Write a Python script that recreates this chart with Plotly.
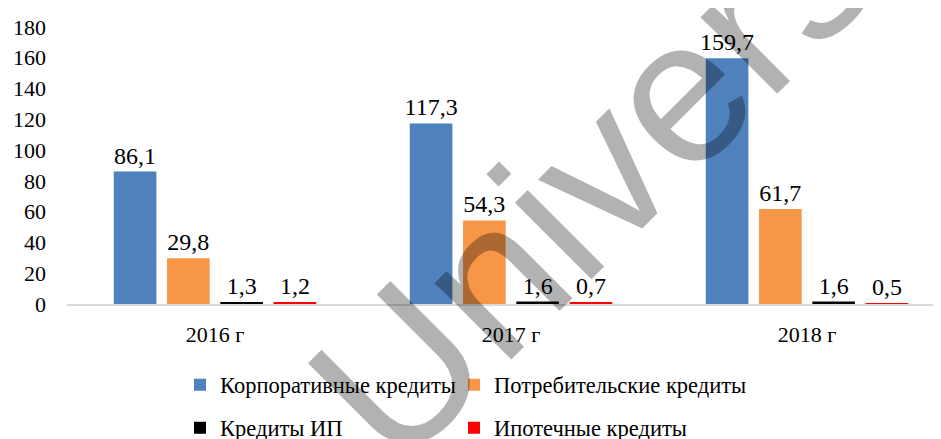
import plotly.graph_objects as go

categories = ["2016 г", "2017 г", "2018 г"]
series_names = ["Корпоративные кредиты", "Потребительские кредиты", "Кредиты ИП", "Ипотечные кредиты"]
corporate = [86.1, 117.3, 159.7]
consumer = [29.8, 54.3, 61.7]
ip_loans = [1.3, 1.6, 1.6]
mortgage = [1.2, 0.7, 0.5]
colors = ["#4F81BD", "#F79646", "#000000", "#FF0000"]
y_ticks = list(range(0, 181, 20))

SERIF = "Times New Roman, Liberation Serif, serif"
# page body has an 8px margin: work in figure coordinates = window - 8
OFF = 8
W, H = 941 - OFF, 439 - OFF
L = 67 - OFF
T = 27 - OFF
B = H - (304 - OFF)
R = 0

fig = go.Figure()
all_series = [corporate, consumer, ip_loans, mortgage]
legend_ids = ["legend", "legend2", "legend3", "legend4"]
for name, vals, col, lg in zip(series_names, all_series, colors, legend_ids):
    fig.add_trace(go.Bar(
        x=categories, y=vals, name=name,
        marker=dict(color=col, line=dict(width=0)),
        texttemplate="%{y:.1f}", textposition="outside",
        textfont=dict(family=SERIF, size=24, color="#000000"),
        outsidetextfont=dict(family=SERIF, size=24, color="#000000"),
        constraintext="none",
        cliponaxis=False, legend=lg,
    ))

# legend placements in window px
leg_pos = [(180, 385), (454, 385), (180, 428), (454, 428)]
leg_layout = {}
for lg, (px, py) in zip(legend_ids, leg_pos):
    leg_layout[lg] = dict(
        x=(px - OFF) / W, y=1 - (py - OFF) / H, xref="container", yref="container",
        xanchor="left", yanchor="middle", orientation="h",
        font=dict(family=SERIF, size=22.5, color="#000000"),
        bgcolor="rgba(0,0,0,0)", itemwidth=30,
    )

plot_w = W - L - R
plot_h = H - T - B
cat_px = 296
x_hi = -0.5 + plot_w / cat_px

wm_x, wm_y = 591 - OFF, 178 - OFF

fig.update_layout(
    width=W, height=H,
    margin=dict(l=L, r=R, t=T, b=B, pad=0),
    paper_bgcolor="white", plot_bgcolor="white",
    barmode="group", bargap=0.28, bargroupgap=0.2,
    separators=", ",
    showlegend=True,
    font=dict(family=SERIF),
    **leg_layout,
    xaxis=dict(
        range=[-0.5, x_hi], showgrid=False, zeroline=False,
        showline=True, linecolor="#D9D9D9", linewidth=2,
        ticks="", tickfont=dict(family=SERIF, size=22, color="#000000"),
        ticklabelstandoff=10,
    ),
    yaxis=dict(
        range=[0, 180], tickvals=y_ticks, showgrid=False, zeroline=False,
        showline=False, ticks="", tickfont=dict(family=SERIF, size=22, color="#000000"),
        ticklabelstandoff=20,
    ),
    annotations=[dict(
        text="Univers", xref="paper", yref="paper",
        x=(wm_x - L) / plot_w, y=((H - B) - wm_y) / plot_h,
        xanchor="center", yanchor="middle", showarrow=False,
        textangle=-45,
        font=dict(family="Liberation Sans", size=205, color="rgba(0,0,0,0.3)"),
    )],
)

fig.write_html("out.html")
